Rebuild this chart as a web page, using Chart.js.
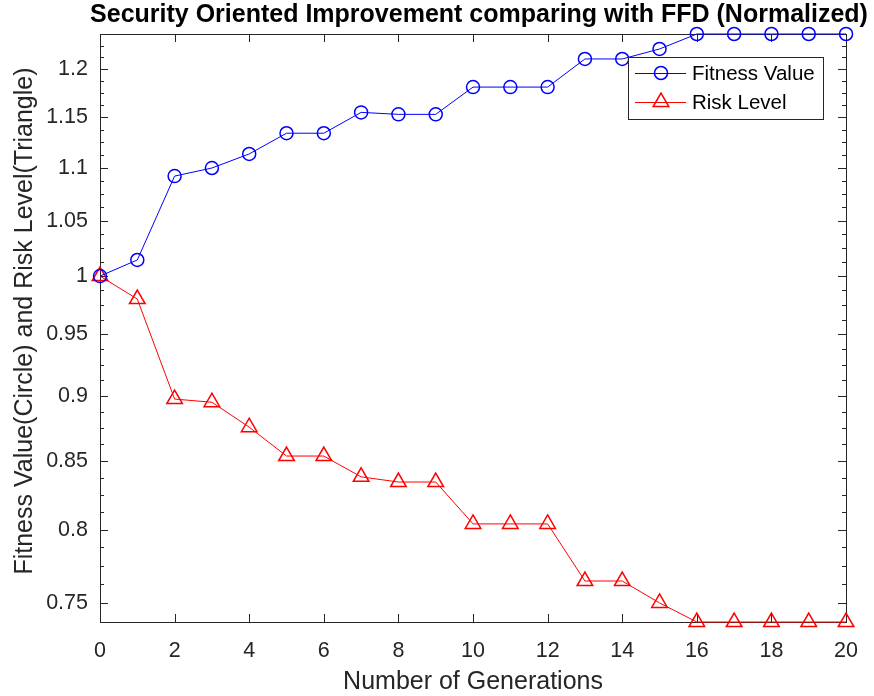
<!DOCTYPE html>
<html>
<head>
<meta charset="utf-8">
<script src="https://cdn.jsdelivr.net/npm/chart.js@4.4.1/dist/chart.umd.min.js"></script>
<style>
html,body{margin:0;padding:0;background:#fff;}
canvas{display:block;}
</style>
</head>
<body>
<canvas id="c" width="874" height="696"></canvas>
<script>
const generations = [0,1,2,3,4,5,6,7,8,9,10,11,12,13,14,15,16,17,18,19,20];
const fitness = [1.0,1.0143,1.092,1.0998,1.1135,1.134,1.134,1.155,1.153,1.153,1.181,1.181,1.181,1.2106,1.2106,1.2213,1.2375,1.2375,1.2375,1.2375,1.2375];
const risk = [1.0,0.98,0.8974,0.8949,0.8755,0.8535,0.8535,0.838,0.8342,0.8342,0.804,0.804,0.804,0.7646,0.7646,0.75,0.7375,0.7375,0.7375,0.7375,0.7375];
const yTicks = [0.75,0.8,0.85,0.9,0.95,1,1.05,1.1,1.15,1.2];
const yTickLabels = ['0.75','0.8','0.85','0.9','0.95','1','1.05','1.1','1.15','1.2'];
const xTicks = [0,2,4,6,8,10,12,14,16,18,20];
const seriesNames = ['Fitness Value','Risk Level'];
const titleText = 'Security Oriented Improvement comparing with FFD (Normalized)';
const xLabel = 'Number of Generations';
const yLabel = 'Fitness Value(Circle) and Risk Level(Triangle)';
const yMin = 0.7375, yMax = 1.2375, yMinorStep = 0.0125;

const AX = '#262626';
const FONT = '"Liberation Sans", Arial, Helvetica, sans-serif';

const decor = {
  id: 'decor',
  beforeDatasetsDraw(chart) {
    const ctx = chart.ctx, a = chart.chartArea;
    const xs = chart.scales.x, ys = chart.scales.y;
    ctx.save();
    ctx.strokeStyle = AX;
    ctx.lineWidth = 1;
    ctx.strokeRect(Math.round(a.left) + 0.5, Math.round(a.top) + 0.5, Math.round(a.right - a.left), Math.round(a.bottom - a.top));
    ctx.beginPath();
    xTicks.forEach(v => {
      const px = Math.round(xs.getPixelForValue(v)) + 0.5;
      ctx.moveTo(px, a.bottom); ctx.lineTo(px, a.bottom - 8);
      ctx.moveTo(px, a.top); ctx.lineTo(px, a.top + 8);
    });
    yTicks.forEach(v => {
      const py = Math.round(ys.getPixelForValue(v)) + 0.5;
      ctx.moveTo(a.left, py); ctx.lineTo(a.left + 8, py);
      ctx.moveTo(a.right, py); ctx.lineTo(a.right - 8, py);
    });
    for (let k = 0; ; k++) {
      const v = yMin + k * yMinorStep;
      if (v > yMax + 1e-9) break;
      const py = Math.round(ys.getPixelForValue(v)) + 0.5;
      ctx.moveTo(a.left, py); ctx.lineTo(a.left + 4, py);
      ctx.moveTo(a.right, py); ctx.lineTo(a.right - 4, py);
    }
    ctx.stroke();
    ctx.restore();
  },
  afterDraw(chart) {
    const ctx = chart.ctx, a = chart.chartArea;
    ctx.save();
    ctx.fillStyle = '#000';
    ctx.font = 'bold 25px ' + FONT;
    ctx.textAlign = 'center';
    ctx.textBaseline = 'middle';
    ctx.fillText(titleText, 479, 15);
    ctx.fillStyle = AX;
    ctx.font = '25px ' + FONT;
    ctx.fillText(xLabel, (a.left + a.right) / 2, 682);
    ctx.save();
    ctx.translate(25, 321);
    ctx.rotate(-Math.PI / 2);
    ctx.fillText(yLabel, 0, 0);
    ctx.restore();
    // legend
    const lx = 628, ly = 57, lw = 195, lh = 62;
    ctx.fillStyle = '#fff';
    ctx.fillRect(lx, ly, lw, lh);
    ctx.strokeStyle = AX;
    ctx.lineWidth = 1;
    ctx.strokeRect(lx + 0.5, ly + 0.5, lw, lh);
    const rows = [73, 102];
    chart.data.datasets.forEach((ds, i) => {
      const y = rows[i];
      ctx.strokeStyle = ds.borderColor;
      ctx.lineWidth = 1;
      ctx.beginPath();
      ctx.moveTo(635, y + 0.5); ctx.lineTo(686, y + 0.5);
      ctx.stroke();
      ctx.fillStyle = 'rgba(0,0,0,0)';
      ctx.strokeStyle = ds.borderColor;
      ctx.lineWidth = 1.5;
      Chart.helpers.drawPoint(ctx, {
        pointStyle: ds.pointStyle, radius: ds.pointRadius, rotation: 0, borderWidth: 1.5
      }, 661, y);
      ctx.fillStyle = '#000';
      ctx.font = '20.5px ' + FONT;
      ctx.textAlign = 'left';
      ctx.textBaseline = 'middle';
      ctx.fillText(seriesNames[i], 692, y + 1);
    });
    ctx.restore();
  }
};

new Chart(document.getElementById('c'), {
  type: 'line',
  data: {
    datasets: [
      {
        label: seriesNames[0],
        data: generations.map((g, i) => ({x: g, y: fitness[i]})),
        borderColor: '#0000ff',
        backgroundColor: 'rgba(0,0,0,0)',
        borderWidth: 1,
        pointStyle: 'circle',
        pointRadius: 6.5,
        pointBorderWidth: 1.5,
        pointBorderColor: '#0000ff',
        pointBackgroundColor: 'rgba(0,0,0,0)',
        tension: 0,
        clip: false
      },
      {
        label: seriesNames[1],
        data: generations.map((g, i) => ({x: g, y: risk[i]})),
        borderColor: '#ff0000',
        backgroundColor: 'rgba(0,0,0,0)',
        borderWidth: 1,
        pointStyle: 'triangle',
        pointRadius: 9,
        pointBorderWidth: 1.5,
        pointBorderColor: '#ff0000',
        pointBackgroundColor: 'rgba(0,0,0,0)',
        tension: 0,
        clip: false
      }
    ]
  },
  options: {
    responsive: false,
    devicePixelRatio: 1,
    animation: false,
    layout: {padding: {top: 34, right: 27, left: 0, bottom: 0}},
    plugins: {legend: {display: false}, title: {display: false}, tooltip: {enabled: false}},
    scales: {
      x: {
        type: 'linear', min: 0, max: 20,
        grid: {display: false, drawTicks: false},
        border: {display: false},
        afterBuildTicks: s => { s.ticks = xTicks.map(v => ({value: v})); },
        afterFit: s => { s.height = 74; },
        ticks: {color: AX, font: {family: FONT, size: 21.5}, padding: 16, maxRotation: 0, autoSkip: false}
      },
      y: {
        type: 'logarithmic', min: yMin, max: yMax,
        grid: {display: false, drawTicks: false},
        border: {display: false},
        afterBuildTicks: s => { s.ticks = yTicks.map(v => ({value: v})); },
        afterFit: s => { s.width = 100; },
        ticks: {
          color: AX, font: {family: FONT, size: 21.5}, padding: 12, autoSkip: false,
          callback: (v) => { const i = yTicks.findIndex(t => Math.abs(t - v) < 1e-9); return i >= 0 ? yTickLabels[i] : ''; }
        }
      }
    }
  },
  plugins: [decor]
});
</script>
</body>
</html>
